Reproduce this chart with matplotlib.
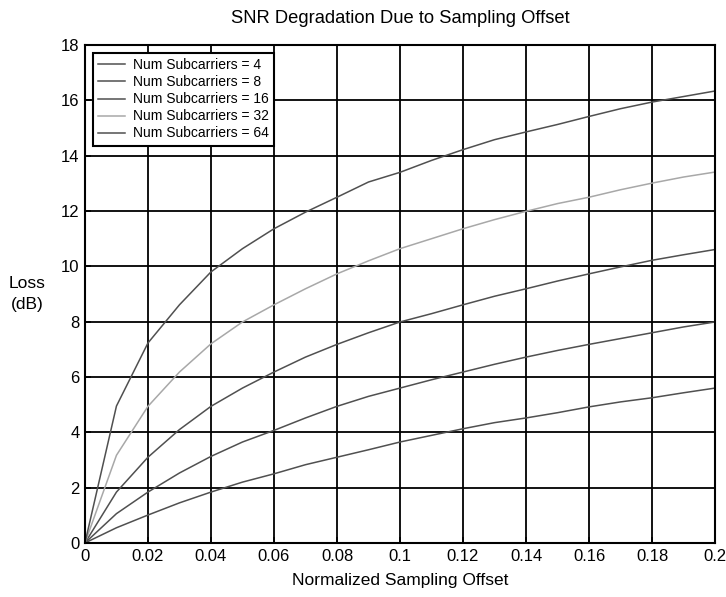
import numpy as np
import matplotlib
matplotlib.use('Agg')
import matplotlib.pyplot as plt

plt.rcParams['font.family'] = ['Liberation Sans', 'DejaVu Sans']

# sampling offset values
offset = [0, 0.01, 0.02, 0.03, 0.04, 0.05, 0.06, 0.07, 0.08, 0.09, 0.10,
          0.11, 0.12, 0.13, 0.14, 0.15, 0.16, 0.17, 0.18, 0.19, 0.20]

# loss in dB for each number of subcarriers
loss4 = [0, 0.55, 1.01, 1.45, 1.84, 2.2, 2.5, 2.83, 3.1, 3.37, 3.65,
         3.89, 4.13, 4.35, 4.52, 4.71, 4.92, 5.1, 5.25, 5.43, 5.6]
loss8 = [0, 1.06, 1.84, 2.53, 3.13, 3.65, 4.07, 4.52, 4.94, 5.3, 5.6,
         5.9, 6.18, 6.46, 6.72, 6.96, 7.18, 7.39, 7.6, 7.81, 7.99]
loss16 = [0, 1.84, 3.1, 4.1, 4.94, 5.6, 6.18, 6.72, 7.18, 7.6, 7.99,
          8.29, 8.61, 8.92, 9.19, 9.47, 9.73, 9.98, 10.22, 10.42, 10.61]
loss32 = [0, 3.17, 4.94, 6.18, 7.2, 7.99, 8.61, 9.19, 9.73, 10.2, 10.64,
          11.0, 11.36, 11.69, 11.99, 12.27, 12.5, 12.77, 13.01, 13.23, 13.41]
loss64 = [0, 4.95, 7.23, 8.61, 9.8, 10.64, 11.36, 11.96, 12.5, 13.05, 13.4,
          13.83, 14.22, 14.58, 14.86, 15.13, 15.42, 15.7, 15.94, 16.14, 16.34]

labels = ['Num Subcarriers = 4', 'Num Subcarriers = 8', 'Num Subcarriers = 16',
          'Num Subcarriers = 32', 'Num Subcarriers = 64']
xticks = [0, 0.02, 0.04, 0.06, 0.08, 0.1, 0.12, 0.14, 0.16, 0.18, 0.2]
xticklabels = ['0', '0.02', '0.04', '0.06', '0.08', '0.1', '0.12', '0.14', '0.16', '0.18', '0.2']
yticks = [0, 2, 4, 6, 8, 10, 12, 14, 16, 18]

fig = plt.figure(figsize=(7.26, 5.97), dpi=100)
ax = fig.add_axes([0.117, 0.0905, 0.868, 0.834])

colors = ['#505050', '#505050', '#505050', '#a8a8a8', '#505050']
for data, lab, c in zip([loss4, loss8, loss16, loss32, loss64], labels, colors):
    ax.plot(offset, data, color=c, linewidth=1.1, label=lab)

ax.set_xlim(0, 0.2)
ax.set_ylim(0, 18)
ax.set_xticks(xticks)
ax.set_xticklabels(xticklabels)
ax.set_yticks(yticks)
ax.tick_params(direction='in', labelsize=12, length=4, width=1.2, pad=4)
ax.grid(True, color='black', linewidth=1.3, linestyle='-')
ax.set_axisbelow(True)
for s in ax.spines.values():
    s.set_linewidth(1.5)

ax.set_title('SNR Degradation Due to Sampling Offset', fontsize=13.2, pad=16)
ax.set_xlabel('Normalized Sampling Offset', fontsize=12.5, labelpad=7)
ax.set_ylabel('Loss\n(dB)', fontsize=12.5, rotation=0, labelpad=24, va='center',
              linespacing=1.5)

leg = ax.legend(loc='upper left', fontsize=10, handlelength=1.9, handletextpad=0.6,
                fancybox=False, framealpha=1, edgecolor='black', borderaxespad=0.55,
                labelspacing=0.22, borderpad=0.4)
leg.get_frame().set_linewidth(1.5)

fig.savefig('out.png', dpi=100)
